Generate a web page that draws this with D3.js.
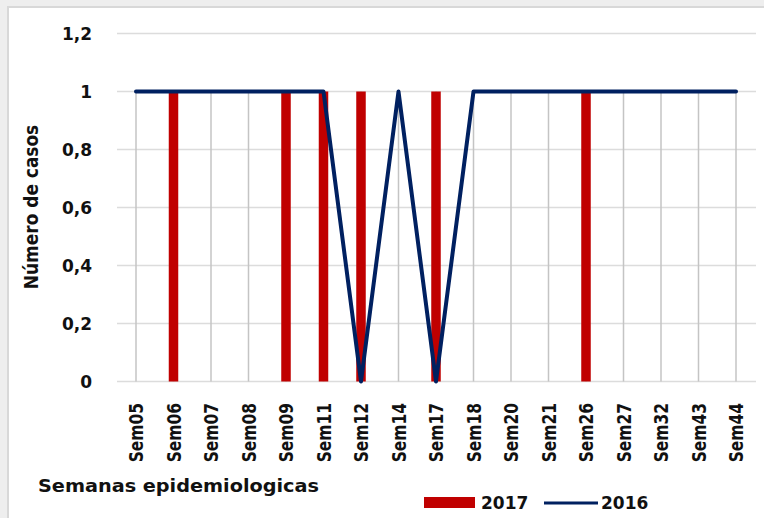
<!DOCTYPE html>
<html>
<head>
<meta charset="utf-8">
<script src="https://cdn.jsdelivr.net/npm/d3@7"></script>
<style>
  html, body { margin: 0; padding: 0; background: #eeeeee; }
  svg { display: block; }
  text { font-family: "DejaVu Sans", sans-serif; font-weight: bold; fill: #111; }
</style>
</head>
<body>
<svg id="chart" width="764" height="518"></svg>
<script>
const categories = ["Sem05","Sem06","Sem07","Sem08","Sem09","Sem11","Sem12","Sem14","Sem17","Sem18","Sem20","Sem21","Sem26","Sem27","Sem32","Sem43","Sem44"];
const values2017 = [0,1,0,0,1,1,1,0,1,0,0,0,1,0,0,0,0];
const values2016 = [1,1,1,1,1,1,0,1,0,1,1,1,1,1,1,1,1];
const yTicks = [0, 0.2, 0.4, 0.6, 0.8, 1, 1.2];
const seriesNames = ["2017", "2016"];
const yTitle = "Número de casos";
const xTitle = "Semanas epidemiologicas";

const svg = d3.select("#chart");

// panel
svg.append("rect").attr("x", 8).attr("y", 7).attr("width", 770).attr("height", 520)
  .attr("fill", "#ffffff").attr("stroke", "#d8d8d8").attr("stroke-width", 2);

const x = d3.scalePoint().domain(categories).range([136, 736]);
const y = d3.scaleLinear().domain([0, 1.2]).range([381.5, 33.5]);

// horizontal gridlines
svg.append("g").selectAll("line").data(yTicks).join("line")
  .attr("x1", 117).attr("x2", 756)
  .attr("y1", d => y(d)).attr("y2", d => y(d))
  .attr("stroke", "#dcdcdc").attr("stroke-width", 1.5);

// drop lines
svg.append("g").selectAll("line").data(categories).join("line")
  .attr("x1", d => x(d)).attr("x2", d => x(d))
  .attr("y1", y(1)).attr("y2", y(0))
  .attr("stroke", "#c4c4c4").attr("stroke-width", 1.5);

// y tick labels
const fmt = d => d3.format(".1f")(d).replace(".", ",");
svg.append("g").selectAll("text").data(yTicks).join("text")
  .attr("x", 92).attr("y", d => y(d)).attr("dy", "0.36em")
  .attr("text-anchor", "end").attr("font-size", 17)
  .text(d => (d === 0 || d === 1) ? String(d) : fmt(d));

// bars 2017
const bw = 9.5;
svg.append("g").selectAll("rect").data(categories.map((c, i) => ({c, v: values2017[i]}))).join("rect")
  .attr("x", d => x(d.c) - bw / 2).attr("width", bw)
  .attr("y", d => y(d.v)).attr("height", d => y(0) - y(d.v))
  .attr("fill", "#c00000");

// line 2016
const line = d3.line().x((d, i) => x(categories[i])).y(d => y(d));
svg.append("path").datum(values2016)
  .attr("d", line).attr("fill", "none")
  .attr("stroke", "#002060").attr("stroke-width", 4)
  .attr("stroke-linecap", "round").attr("stroke-linejoin", "round");

// x labels
svg.append("g").selectAll("text").data(categories).join("text")
  .attr("transform", d => `translate(${x(d)},403) rotate(-90) scale(1,1.3)`)
  .attr("dy", "0.36em").attr("text-anchor", "end").attr("font-size", 15.5)
  .text(d => d);

// axis titles
svg.append("text").attr("transform", "translate(31,207) rotate(-90) scale(1,1.15)")
  .attr("dy", "0.36em").attr("text-anchor", "middle").attr("font-size", 17)
  .text(yTitle);
svg.append("text").attr("transform", "translate(38,492) scale(1.07,1)").attr("font-size", 18).text(xTitle);

// legend
svg.append("rect").attr("x", 424).attr("y", 497).attr("width", 51).attr("height", 11).attr("fill", "#c00000");
svg.append("text").attr("x", 481).attr("y", 509).attr("font-size", 17).text(seriesNames[0]);
svg.append("line").attr("x1", 544).attr("x2", 598).attr("y1", 503).attr("y2", 503)
  .attr("stroke", "#002060").attr("stroke-width", 3);
svg.append("text").attr("x", 601).attr("y", 509).attr("font-size", 17).text(seriesNames[1]);
</script>
</body>
</html>
